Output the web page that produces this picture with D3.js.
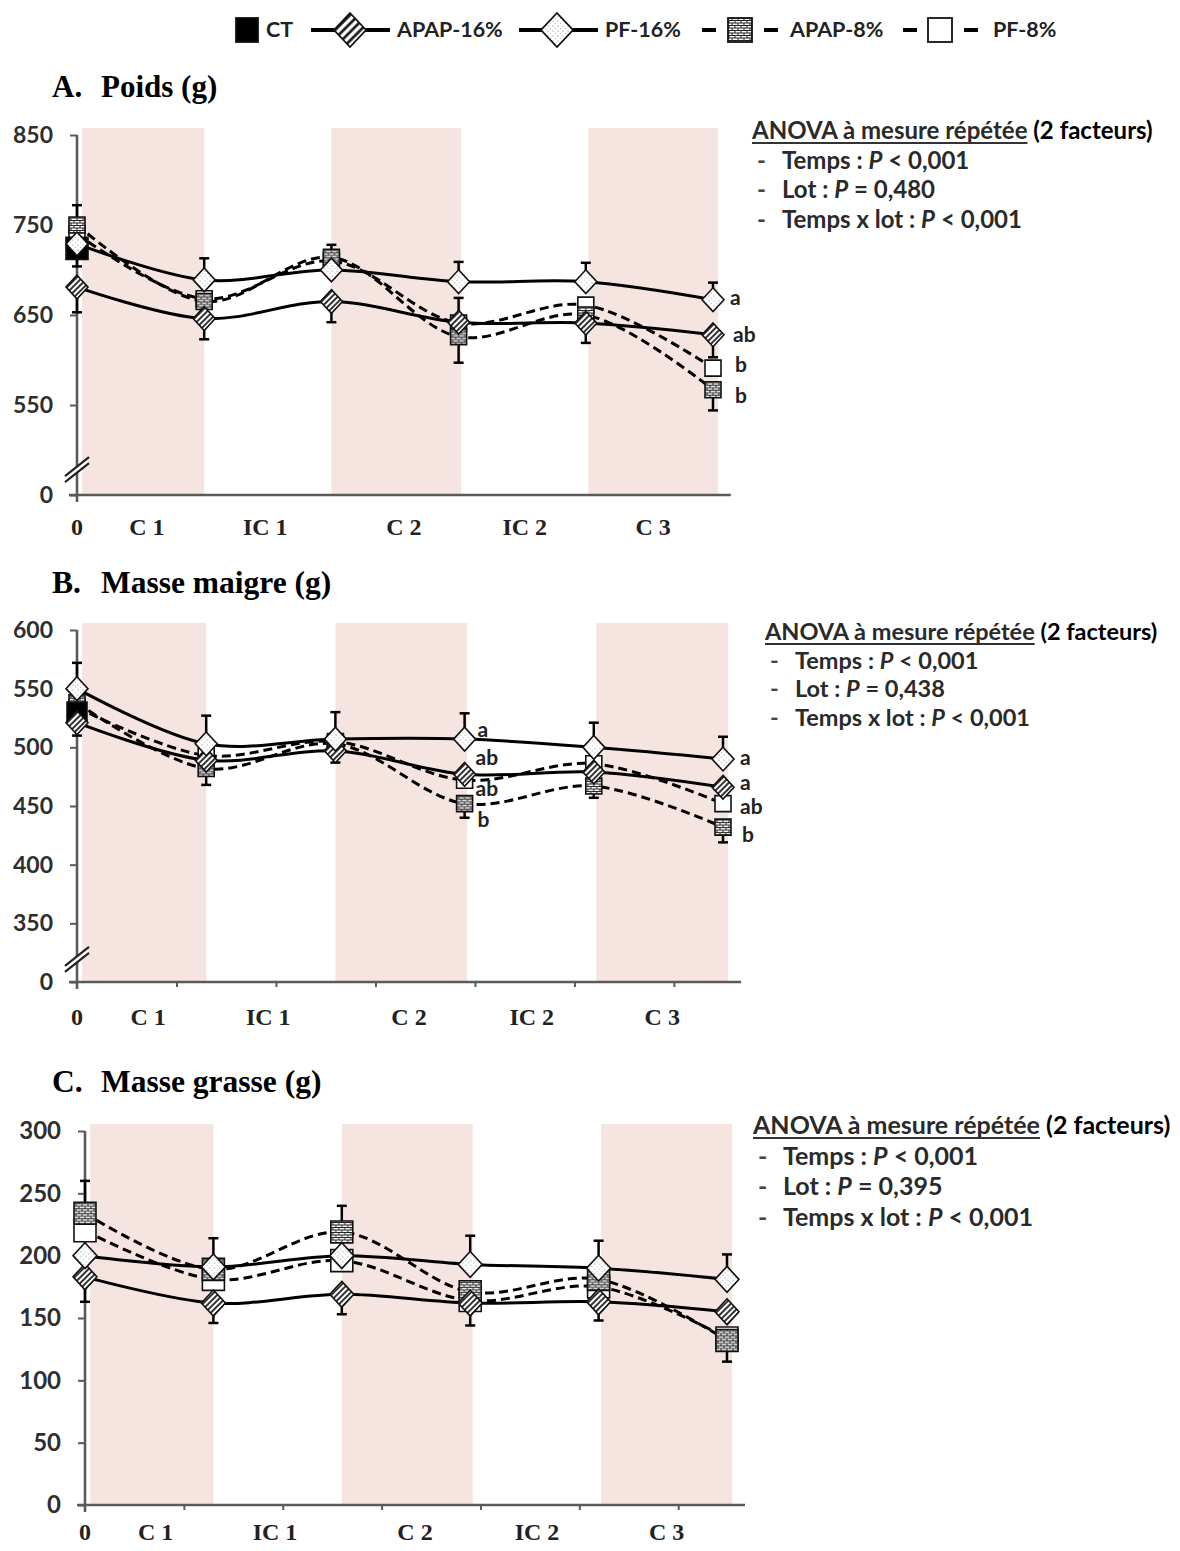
<!DOCTYPE html>
<html><head><meta charset="utf-8">
<script src="https://cdn.jsdelivr.net/npm/d3@7"></script>
<style>body{margin:0;background:#fff}svg{display:block}</style>
</head><body>
<svg id="c" width="1180" height="1551"></svg>
<script>
// ---------- DATA ----------
const timeIdx = [0, 1, 2, 3, 4, 5];
const seriesNames = ["CT", "APAP-16%", "PF-16%", "APAP-8%", "PF-8%"];
const phaseLabels = ["C 1", "IC 1", "C 2", "IC 2", "C 3"];
const phasePos = [0.55, 1.48, 2.57, 3.52, 4.53];
const bandRanges = [[0.04, 1.0], [2.0, 3.02], [4.02, 5.04]];
const minorTickIdx = [0.77, 1.54, 2.31, 3.08, 3.85, 4.62];

// A. Poids (g)
const poidsTickValues = [450, 550, 650, 750, 850];
const poidsTickLabels = ["0", "550", "650", "750", "850"];
const poidsCT     = [724, null, null, null, null, null];
const poidsAPAP16 = [681, 646, 665, 642, 641, 628];
const poidsPF16   = [729, 689, 700, 687, 687, 667];
const poidsAPAP8  = [750, 665, 714, 626, 650, 567];
const poidsPF8    = [740, 668, 710, 641, 661, 591];
const poidsErrCT     = [-20, null, null, null, null, null];
const poidsErrAPAP16 = [-28, -23, -23, null, -22, -25];
const poidsErrPF16   = [null, 24, null, 22, 21, 19];
const poidsErrAPAP8  = [22, null, 14, -29, null, -23];
const poidsErrPF8    = [null, null, null, 28, null, null];
const poidsLetters = [["PF-16%", 5, "a"], ["APAP-16%", 5, "ab"], ["PF-8%", 5, "b"], ["APAP-8%", 5, "b"]];
const poidsAnova = [["Temps", "<", "0,001"], ["Lot", "=", "0,480"], ["Temps x lot", "<", "0,001"]];

// B. Masse maigre (g)
const maigreTickValues = [300, 350, 400, 450, 500, 550, 600];
const maigreTickLabels = ["0", "350", "400", "450", "500", "550", "600"];
const maigreCT     = [530, null, null, null, null, null];
const maigreAPAP16 = [521, 489, 497, 477, 479, 466];
const maigrePF16   = [550, 503, 507, 507, 500, 490];
const maigreAPAP8  = [538, 482, 503, 452, 467, 432];
const maigrePF8    = [534, 493, 505, 472, 486, 452];
const maigreErrCT     = [null, null, null, null, null, null];
const maigreErrAPAP16 = [-11, null, -10, null, null, null];
const maigreErrPF16   = [22, 24, 23, 22, 21, 19];
const maigreErrAPAP8  = [null, -14, null, -12, -10, -13];
const maigreErrPF8    = [null, null, null, null, null, null];
const maigreLetters = [["PF-16%", 3, "a"], ["APAP-16%", 3, "ab"], ["PF-8%", 3, "ab"], ["APAP-8%", 3, "b"],
                       ["PF-16%", 5, "a"], ["APAP-16%", 5, "a"], ["PF-8%", 5, "ab"], ["APAP-8%", 5, "b"]];
const maigreAnova = [["Temps", "<", "0,001"], ["Lot", "=", "0,438"], ["Temps x lot", "<", "0,001"]];

// C. Masse grasse (g)
const grasseTickValues = [0, 50, 100, 150, 200, 250, 300];
const grasseTickLabels = ["0", "50", "100", "150", "200", "250", "300"];
const grasseCT     = [null, null, null, null, null, null];
const grasseAPAP16 = [183, 162, 169, 162, 163, 155];
const grassePF16   = [200, 191, 200, 193, 190, 181];
const grasseAPAP8  = [234, 189, 219, 171, 181, 132];
const grassePF8    = [220, 181, 196, 164, 175, 134];
const grasseErrCT     = [null, null, null, null, null, null];
const grasseErrAPAP16 = [-20, -16, -16, -18, -15, null];
const grasseErrPF16   = [null, 23, null, 23, 22, 20];
const grasseErrAPAP8  = [26, null, 21, null, null, -17];
const grasseErrPF8    = [null, null, null, null, null, null];
const grasseLetters = [];
const grasseAnova = [["Temps", "<", "0,001"], ["Lot", "=", "0,395"], ["Temps x lot", "<", "0,001"]];

// ---------- DRAWING ----------
const svg = d3.select("#c");
const defs = svg.append("defs");
const BAND = "#f6e4e1";
const AXIS = "#5a5a5a";
const SANS = "Lato, 'Open Sans', sans-serif";
const SERIF = "'Liberation Serif', 'DejaVu Serif', serif";

// patterns
const hatch = defs.append("pattern").attr("id", "hatch").attr("patternUnits", "userSpaceOnUse")
  .attr("width", 4).attr("height", 4).attr("patternTransform", "rotate(45)");
hatch.append("rect").attr("width", 4).attr("height", 4).attr("fill", "#fff");
hatch.append("line").attr("x1", 1).attr("y1", 0).attr("x2", 1).attr("y2", 4).attr("stroke", "#333").attr("stroke-width", 2);
const hatchBig = defs.append("pattern").attr("id", "hatchBig").attr("patternUnits", "userSpaceOnUse")
  .attr("width", 6).attr("height", 6).attr("patternTransform", "rotate(45)");
hatchBig.append("rect").attr("width", 6).attr("height", 6).attr("fill", "#fff");
hatchBig.append("line").attr("x1", 1.5).attr("y1", 0).attr("x2", 1.5).attr("y2", 6).attr("stroke", "#111").attr("stroke-width", 2.6);
const dots = defs.append("pattern").attr("id", "dots").attr("patternUnits", "userSpaceOnUse")
  .attr("width", 5).attr("height", 5);
dots.append("rect").attr("width", 5).attr("height", 5).attr("fill", "#fff");
dots.append("circle").attr("cx", 1).attr("cy", 1).attr("r", 0.6).attr("fill", "#777");
dots.append("circle").attr("cx", 3.5).attr("cy", 3.5).attr("r", 0.6).attr("fill", "#aaa");
const brick = defs.append("pattern").attr("id", "brick").attr("patternUnits", "userSpaceOnUse")
  .attr("width", 6).attr("height", 5);
brick.append("rect").attr("width", 6).attr("height", 5).attr("fill", "#fff");
brick.append("path").attr("d", "M0,0.5H6M0,3H6M3,0.5V3M0,3V5.5M6,3V5.5")
  .attr("stroke", "#222").attr("stroke-width", 1).attr("fill", "none");

const style = {
  "CT":       {shape: "square", fill: "#000", dash: null},
  "APAP-16%": {shape: "diamond", fill: "url(#hatch)", dash: null},
  "PF-16%":   {shape: "diamond", fill: "url(#dots)", dash: null},
  "APAP-8%":  {shape: "square", fill: "url(#brick)", dash: "9,5"},
  "PF-8%":    {shape: "square", fill: "#fff", dash: "9,5"}
};

function markerPath(shape, d) {
  if (shape === "diamond") {
    const w = d / 2, h = d / 2 * 1.08;
    return `M0,${-h}L${w},0L0,${h}L${-w},0Z`;
  }
  const s = d / 2;
  return `M${-s},${-s}H${s}V${s}H${-s}Z`;
}

function drawPanel(cfg) {
  const g = svg.append("g");
  const x = d3.scaleLinear().domain([0, 5]).range([cfg.left, cfg.left + 5 * cfg.step]);
  const y = d3.scaleLinear().domain(cfg.domain).range([cfg.yBot, cfg.yTop]);

  // title
  g.append("text").attr("x", 52).attr("y", cfg.titleY).attr("font-family", SERIF).attr("font-weight", "bold")
    .attr("font-size", cfg.titleSize).attr("fill", "#000").text(cfg.letter);
  g.append("text").attr("x", 101).attr("y", cfg.titleY).attr("font-family", SERIF).attr("font-weight", "bold")
    .attr("font-size", cfg.titleSize).attr("fill", "#000").text(cfg.title);

  // bands
  g.selectAll("rect.band").data(bandRanges).join("rect").attr("class", "band")
    .attr("x", d => x(d[0])).attr("width", d => x(d[1]) - x(d[0]))
    .attr("y", cfg.yTop - 7).attr("height", cfg.yBot - cfg.yTop + 7).attr("fill", BAND);

  // y axis
  const yAxis = d3.axisLeft(y).tickValues(cfg.tickValues)
    .tickFormat((d, i) => cfg.tickLabels[i]).tickSize(7).tickPadding(17);
  const ya = g.append("g").attr("transform", `translate(${cfg.left},0)`).call(yAxis);
  ya.select(".domain").remove();
  ya.selectAll(".tick line").attr("stroke", AXIS).attr("stroke-width", 2);
  ya.selectAll(".tick text").attr("font-family", SANS).attr("font-weight", "bold")
    .attr("font-size", cfg.tickSize).attr("fill", "#2e2e2e");
  g.append("line").attr("x1", cfg.left).attr("x2", cfg.left).attr("y1", cfg.yTop).attr("y2", cfg.yBot + 7)
    .attr("stroke", AXIS).attr("stroke-width", 2.6);

  // x axis
  const xAxis = d3.axisBottom(x).tickValues(cfg.minorTicks ? minorTickIdx : []).tickSize(5).tickFormat("");
  const xa = g.append("g").attr("transform", `translate(0,${cfg.yBot})`).call(xAxis);
  xa.select(".domain").remove();
  xa.selectAll(".tick line").attr("stroke", AXIS).attr("stroke-width", 2);
  g.append("line").attr("x1", cfg.left - 8).attr("x2", x(5.14)).attr("y1", cfg.yBot).attr("y2", cfg.yBot)
    .attr("stroke", AXIS).attr("stroke-width", 2.6);

  // axis break
  if (cfg.breakFrac) {
    const by = cfg.yBot - cfg.breakFrac * (y(cfg.tickValues[0]) - y(cfg.tickValues[1]));
    const bx = cfg.left;
    g.append("path").attr("d", `M${bx - 11},${by + 9}L${bx + 11},${by - 9}L${bx + 11},${by - 4}L${bx - 11},${by + 14}Z`)
      .attr("fill", "#fff");
    g.append("line").attr("x1", bx - 12).attr("y1", by + 9).attr("x2", bx + 12).attr("y2", by - 10)
      .attr("stroke", "#222").attr("stroke-width", 2.2);
    g.append("line").attr("x1", bx - 12).attr("y1", by + 15).attr("x2", bx + 12).attr("y2", by - 4)
      .attr("stroke", "#222").attr("stroke-width", 2.2);
  }

  // phase labels
  g.append("text").attr("x", x(0)).attr("y", cfg.phaseY).attr("text-anchor", "middle")
    .attr("font-family", SERIF).attr("font-weight", "bold").attr("font-size", 24).attr("fill", "#222").text("0");
  g.selectAll("text.phase").data(phaseLabels).join("text").attr("class", "phase")
    .attr("x", (d, i) => x(phasePos[i])).attr("y", cfg.phaseY).attr("text-anchor", "middle")
    .attr("font-family", SERIF).attr("font-weight", "bold").attr("font-size", 24).attr("fill", "#222").text(d => d);

  // series
  const data = {};
  seriesNames.forEach((n, k) => {
    data[n] = timeIdx.map((t, i) => ({i: t, v: cfg.values[k][i], e: cfg.errors[k][i]}));
  });
  const line = d3.line().defined(d => d.v != null).x(d => x(d.i)).y(d => y(d.v))
    .curve(d3.curveCatmullRom.alpha(0.5));
  ["PF-8%", "APAP-8%", "APAP-16%", "PF-16%"].forEach(n => {
    g.append("path").attr("d", line(data[n])).attr("fill", "none").attr("stroke", "#000")
      .attr("stroke-width", 3).attr("stroke-dasharray", style[n].dash);
  });

  // error bars
  seriesNames.forEach(n => {
    data[n].filter(d => d.v != null && d.e != null).forEach(d => {
      const x0 = x(d.i), y0 = y(d.v), y1 = y(d.v + d.e);
      g.append("line").attr("x1", x0).attr("x2", x0).attr("y1", y0).attr("y2", y1)
        .attr("stroke", "#000").attr("stroke-width", 2.5);
      g.append("line").attr("x1", x0 - 5).attr("x2", x0 + 5).attr("y1", y1).attr("y2", y1)
        .attr("stroke", "#000").attr("stroke-width", 2.5);
    });
  });

  // markers
  ["PF-8%", "APAP-8%", "CT", "APAP-16%", "PF-16%"].forEach(n => {
    const st = style[n];
    const size = st.shape === "diamond" ? cfg.diamond : (n === "CT" ? cfg.ctSize : cfg.square);
    g.selectAll(null).data(data[n].filter(d => d.v != null)).join("path")
      .attr("transform", d => `translate(${x(d.i)},${y(d.v)})`)
      .attr("d", markerPath(st.shape, size)).attr("fill", st.fill)
      .attr("stroke", "#111").attr("stroke-width", 1.6);
  });

  // significance letters
  cfg.letters.forEach((L, j) => {
    const d = data[L[0]][L[1]];
    const nud = cfg.letterNudge[j];
    g.append("text").attr("x", x(d.i) + nud[0]).attr("y", y(d.v) + nud[1])
      .attr("font-family", SANS).attr("font-weight", "bold").attr("font-size", 21).attr("fill", "#222")
      .text(L[2]);
  });

  // ANOVA annotation
  const fs = cfg.annFont;
  const head = g.append("text").attr("x", cfg.annX).attr("y", cfg.annY)
    .attr("font-family", SANS).attr("font-weight", "bold").attr("font-size", fs).attr("fill", "#2a2a2a");
  const t1 = head.append("tspan").text("ANOVA à mesure répétée");
  head.append("tspan").text(" (2 facteurs)").attr("fill", "#000");
  const ulen = t1.node().getComputedTextLength();
  g.append("line").attr("x1", cfg.annX).attr("x2", cfg.annX + ulen).attr("y1", cfg.annY + 4).attr("y2", cfg.annY + 4)
    .attr("stroke", "#333").attr("stroke-width", 1.8);
  cfg.anova.forEach((a, j) => {
    const yy = cfg.annY + cfg.annStep * (j + 1);
    g.append("text").attr("x", cfg.annX + 5).attr("y", yy).attr("font-family", SANS).attr("font-weight", "bold")
      .attr("font-size", fs).attr("fill", "#444").text("-");
    const t = g.append("text").attr("x", cfg.annX + 30).attr("y", yy).attr("font-family", SANS)
      .attr("font-weight", "bold").attr("font-size", fs).attr("fill", "#2a2a2a");
    t.append("tspan").text(a[0] + " : ");
    t.append("tspan").attr("font-style", "italic").text("P");
    t.append("tspan").text(" " + a[1] + " " + a[2]);
  });
}

drawPanel({
  letter: "A.", title: "Poids (g)", titleY: 97, titleSize: 31,
  left: 77, step: 127.2, yTop: 135, yBot: 495, domain: [450, 850],
  tickValues: poidsTickValues, tickLabels: poidsTickLabels, tickSize: 23, breakFrac: 0.31, minorTicks: false,
  phaseY: 535, diamond: 22, square: 16, ctSize: 22,
  values: [poidsCT, poidsAPAP16, poidsPF16, poidsAPAP8, poidsPF8],
  errors: [poidsErrCT, poidsErrAPAP16, poidsErrPF16, poidsErrAPAP8, poidsErrPF8],
  letters: poidsLetters, letterNudge: [[17, 5], [20, 7], [22, 4], [22, 13]],
  anova: poidsAnova, annX: 752, annY: 139, annStep: 29.5, annFont: 24
});
drawPanel({
  letter: "B.", title: "Masse maigre (g)", titleY: 593, titleSize: 31.5,
  left: 77, step: 129.2, yTop: 630, yBot: 982, domain: [300, 600],
  tickValues: maigreTickValues, tickLabels: maigreTickLabels, tickSize: 23, breakFrac: 0.43, minorTicks: true,
  phaseY: 1025, diamond: 22, square: 16, ctSize: 20,
  values: [maigreCT, maigreAPAP16, maigrePF16, maigreAPAP8, maigrePF8],
  errors: [maigreErrCT, maigreErrAPAP16, maigreErrPF16, maigreErrAPAP8, maigreErrPF8],
  letters: maigreLetters,
  letterNudge: [[13, -2], [11, -9], [11, 16], [13, 23], [17, 6], [17, 3], [17, 10], [19, 15]],
  anova: maigreAnova, annX: 765, annY: 640, annStep: 28.5, annFont: 23.5
});
drawPanel({
  letter: "C.", title: "Masse grasse (g)", titleY: 1092, titleSize: 31.5,
  left: 85, step: 128.4, yTop: 1131, yBot: 1505, domain: [0, 300],
  tickValues: grasseTickValues, tickLabels: grasseTickLabels, tickSize: 24, breakFrac: 0, minorTicks: true,
  phaseY: 1540, diamond: 24, square: 22, ctSize: 22,
  values: [grasseCT, grasseAPAP16, grassePF16, grasseAPAP8, grassePF8],
  errors: [grasseErrCT, grasseErrAPAP16, grasseErrPF16, grasseErrAPAP8, grasseErrPF8],
  letters: grasseLetters, letterNudge: [],
  anova: grasseAnova, annX: 753, annY: 1134, annStep: 30.5, annFont: 25
});

// ---------- LEGEND ----------
const legendLayout = [
  {name: "CT", lineFrom: null, mx: 247, tx: 266},
  {name: "APAP-16%", lineFrom: [311, 390], mx: 350, tx: 397},
  {name: "PF-16%", lineFrom: [519, 598], mx: 557, tx: 605},
  {name: "APAP-8%", lineFrom: [702, 778], mx: 740, tx: 790},
  {name: "PF-8%", lineFrom: [903, 978], mx: 940, tx: 993}
];
const lg = svg.append("g");
const LY = 30;
legendLayout.forEach(L => {
  const st = style[L.name];
  if (L.lineFrom) {
    lg.append("line").attr("x1", L.lineFrom[0]).attr("x2", L.lineFrom[1]).attr("y1", LY).attr("y2", LY)
      .attr("stroke", "#000").attr("stroke-width", 4)
      .attr("stroke-dasharray", st.dash ? "14,62" : null);
    if (st.dash) {
      lg.append("line").attr("x1", L.lineFrom[1] - 14).attr("x2", L.lineFrom[1]).attr("y1", LY).attr("y2", LY)
        .attr("stroke", "#000").attr("stroke-width", 4);
    }
  }
  let p;
  if (L.name === "CT") {
    p = lg.append("rect").attr("x", L.mx - 11).attr("y", LY - 12).attr("width", 22).attr("height", 24);
  } else if (st.shape === "diamond") {
    p = lg.append("path").attr("transform", `translate(${L.mx},${LY})`).attr("d", "M0,-17L16,0L0,17L-16,0Z");
  } else {
    p = lg.append("rect").attr("x", L.mx - 12).attr("y", LY - 12).attr("width", 24).attr("height", 24);
  }
  p.attr("fill", L.name === "APAP-16%" ? "url(#hatchBig)" : st.fill).attr("stroke", "#111").attr("stroke-width", 1.8);
  lg.append("text").attr("x", L.tx).attr("y", LY + 7).attr("font-family", SANS).attr("font-weight", "bold")
    .attr("font-size", 21.5).attr("fill", "#222").text(L.name);
});
</script>
</body></html>
